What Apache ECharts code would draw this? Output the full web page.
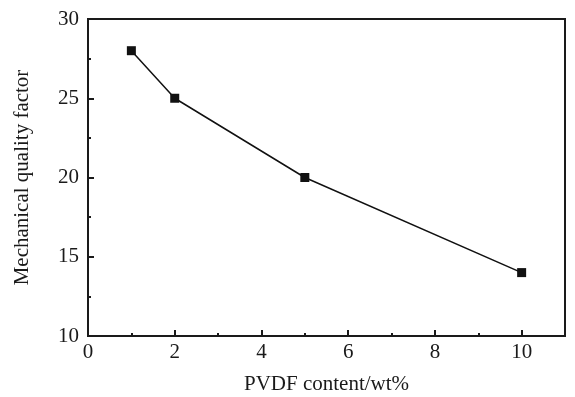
<!DOCTYPE html>
<html>
<head>
<meta charset="utf-8">
<script src="https://cdn.jsdelivr.net/npm/echarts@6/dist/echarts.min.js"></script>
<style>html,body{margin:0;padding:0;background:#fff;}#c{width:575px;height:397px;}</style>
</head>
<body>
<div id="c"></div>
<script>
const pvdfContent = [1, 2, 5, 10];
const qualityFactor = [28, 25, 20, 14];
const xTitle = 'PVDF content/wt%';
const yTitle = 'Mechanical quality factor';

const chart = echarts.init(document.getElementById('c'), null, {renderer: 'canvas'});
const font = 'Liberation Serif';
const axisCommon = {
  axisLine: {show: true, lineStyle: {color: '#1a1a1a', width: 2}},
  axisTick: {show: true, inside: true, length: 6, lineStyle: {color: '#1a1a1a', width: 2}},
  minorTick: {show: true, splitNumber: 2, length: 3, lineStyle: {color: '#1a1a1a', width: 2}},
  splitLine: {show: false},
  axisLabel: {color: '#1a1a1a', fontFamily: font, fontSize: 21},
  nameTextStyle: {color: '#1a1a1a', fontFamily: font, fontSize: 21}
};
chart.setOption({
  animation: false,
  backgroundColor: '#fff',
  grid: {left: 88, top: 19, right: 10, bottom: 61, show: true, borderColor: '#1a1a1a', borderWidth: 2,
         containLabel: false, outerBoundsMode: 'none'},
  xAxis: Object.assign({}, axisCommon, {
    type: 'value', min: 0, max: 11, interval: 2,
    name: xTitle, nameLocation: 'middle', nameGap: 38,
    axisLabel: Object.assign({}, axisCommon.axisLabel, {margin: 6,
      formatter: v => (v % 2 === 0 && v <= 10) ? String(v) : ''})
  }),
  yAxis: Object.assign({}, axisCommon, {
    type: 'value', min: 10, max: 30, interval: 5,
    name: yTitle, nameLocation: 'middle', nameGap: 55,
    axisLabel: Object.assign({}, axisCommon.axisLabel, {margin: 9})
  }),
  series: [{
    type: 'line',
    data: pvdfContent.map((x, i) => [x, qualityFactor[i]]),
    symbol: 'rect', symbolSize: 9,
    itemStyle: {color: '#111'},
    lineStyle: {color: '#111', width: 1.5}
  }]
});
</script>
</body>
</html>
